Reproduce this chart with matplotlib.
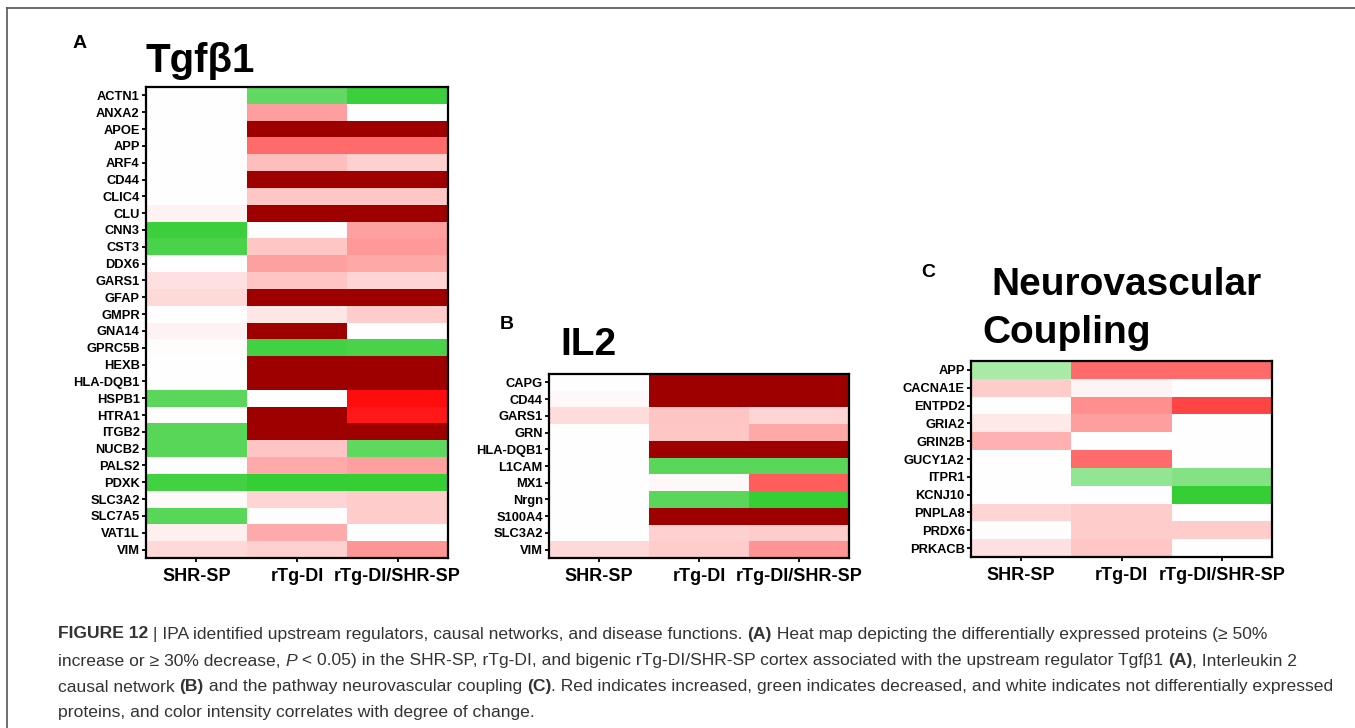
import matplotlib
matplotlib.use("Agg")
import matplotlib.pyplot as plt
import numpy as np
from matplotlib.colors import LinearSegmentedColormap, Normalize
from matplotlib.lines import Line2D

plt.rcParams["font.family"] = ["Liberation Sans", "DejaVu Sans"]

# Relative change scale: -1 (strongest decrease, green) .. +1 (strongest increase, red).
# Values above +1 are drawn in the dark "over" red.
groups = ["SHR-SP", "rTg-DI", "rTg-DI/SHR-SP"]
OVER = 1.5

tgfb1_genes = ["ACTN1", "ANXA2", "APOE", "APP", "ARF4", "CD44", "CLIC4", "CLU",
               "CNN3", "CST3", "DDX6", "GARS1", "GFAP", "GMPR", "GNA14", "GPRC5B",
               "HEXB", "HLA-DQB1", "HSPB1", "HTRA1", "ITGB2", "NUCB2", "PALS2",
               "PDXK", "SLC3A2", "SLC7A5", "VAT1L", "VIM"]
tgfb1_shr = [0, 0, 0, 0, 0, 0, 0, 0.05,
             -0.95, -0.88, 0, 0.12, 0.15, 0, 0.05, 0.01,
             0, 0, -0.80, 0, -0.82, -0.82, 0,
             -0.92, 0.02, -0.82, 0.06, 0.15]
tgfb1_rtg = [-0.77, 0.38, OVER, 0.58, 0.25, OVER, 0.22, OVER,
             0, 0.22, 0.37, 0.23, OVER, 0.10, OVER, -0.92,
             OVER, OVER, 0, OVER, OVER, 0.23, 0.33,
             -0.98, 0.17, 0, 0.33, 0.18]
tgfb1_bigenic = [-0.95, 0, OVER, 0.58, 0.18, OVER, 0.22, OVER,
                 0.37, 0.40, 0.34, 0.17, OVER, 0.20, 0, -0.88,
                 OVER, OVER, 0.95, 0.90, OVER, -0.78, 0.37,
                 -0.98, 0.20, 0.20, 0, 0.41]

il2_genes = ["CAPG", "CD44", "GARS1", "GRN", "HLA-DQB1", "L1CAM", "MX1", "Nrgn",
             "S100A4", "SLC3A2", "VIM"]
il2_shr = [0, 0.03, 0.14, 0, 0, 0, 0, 0, 0, 0, 0.15]
il2_rtg = [OVER, OVER, 0.23, 0.22, OVER, -0.80, 0.03, -0.80, OVER, 0.18, 0.20]
il2_bigenic = [OVER, OVER, 0.17, 0.34, OVER, -0.80, 0.64, -0.98, OVER, 0.20, 0.42]

nvc_genes = ["APP", "CACNA1E", "ENTPD2", "GRIA2", "GRIN2B", "GUCY1A2", "ITPR1",
             "KCNJ10", "PNPLA8", "PRDX6", "PRKACB"]
nvc_shr = [-0.42, 0.20, 0, 0.09, 0.31, 0, 0, 0, 0.17, 0, 0.12]
nvc_rtg = [0.58, 0.04, 0.44, 0.38, 0, 0.58, -0.53, 0, 0.20, 0.20, 0.22]
nvc_bigenic = [0.58, 0, 0.73, 0, 0, 0, -0.60, -0.98, 0, 0.20, 0]

W, H = 1355, 728
fig = plt.figure(figsize=(W / 100, H / 100), dpi=100)

cmap = LinearSegmentedColormap.from_list(
    "gwr", [(0.0, (50/255, 205/255, 50/255)), (0.5, (1, 1, 1)), (1.0, (1, 0, 0))])
cmap.set_over("#9e0000")
norm = Normalize(vmin=-1, vmax=1)


def fx(px):
    return px / W


def fy(py):
    return 1 - py / H


def draw_heatmap(left, top, right, bottom, genes, columns):
    ax = fig.add_axes([fx(left), fy(bottom), fx(right - left), (bottom - top) / H])
    data = np.array(columns, dtype=float).T
    ax.pcolormesh(np.arange(len(groups) + 1), np.arange(len(genes) + 1), data,
                  cmap=cmap, norm=norm, shading="flat", edgecolors="none")
    ax.set_xlim(0, len(groups))
    ax.set_ylim(len(genes), 0)
    ax.set_yticks(np.arange(len(genes)) + 0.5, genes, fontsize=9.3, fontweight="bold")
    ax.set_xticks(np.arange(len(groups)) + 0.5, groups, fontsize=13, fontweight="bold")
    ax.tick_params(axis="y", length=3, width=1.3, pad=1.5)
    ax.tick_params(axis="x", length=3, width=1.3, pad=4)
    for s in ax.spines.values():
        s.set_linewidth(1.6)
    return ax


draw_heatmap(146, 87, 448, 558, tgfb1_genes, [tgfb1_shr, tgfb1_rtg, tgfb1_bigenic])
draw_heatmap(549, 374, 849, 558, il2_genes, [il2_shr, il2_rtg, il2_bigenic])
draw_heatmap(971, 361, 1272, 557, nvc_genes, [nvc_shr, nvc_rtg, nvc_bigenic])

# Panel titles and letters
fig.text(fx(146), fy(72), "Tgfβ1", fontsize=29, fontweight="bold", va="baseline")
fig.text(fx(560), fy(355), "IL2", fontsize=28, fontweight="bold", va="baseline")
fig.text(fx(991), fy(295), "Neurovascular", fontsize=28, fontweight="bold", va="baseline")
fig.text(fx(982), fy(343), "Coupling", fontsize=28, fontweight="bold", va="baseline")
fig.text(fx(73), fy(48), "A", fontsize=14, fontweight="bold", va="baseline")
fig.text(fx(500), fy(329), "B", fontsize=14, fontweight="bold", va="baseline")
fig.text(fx(921), fy(277), "C", fontsize=14, fontweight="bold", va="baseline")

# Frame lines along the top and left edges
fig.add_artist(Line2D([fx(7), 1], [fy(8), fy(8)], color="#555555", lw=1.2))
fig.add_artist(Line2D([fx(7), fx(7)], [fy(8), 0], color="#555555", lw=1.2))

# Caption with mixed weights
cap_color = "#333333"
cap_size = 12.6
renderer = fig.canvas.get_renderer()


def rich_line(x_px, y_px, parts):
    x = fx(x_px)
    for text, style in parts:
        kw = {}
        if style == "b":
            kw["fontweight"] = "bold"
        elif style == "i":
            kw["fontstyle"] = "italic"
        t = fig.text(x, fy(y_px), text, fontsize=cap_size, color=cap_color,
                     va="center", ha="left", **kw)
        x += t.get_window_extent(renderer).width / W


rich_line(58, 634, [("FIGURE 12", "b"),
                    (" | IPA identified upstream regulators, causal networks, and disease functions. ", ""),
                    ("(A)", "b"),
                    (" Heat map depicting the differentially expressed proteins (≥ 50%", "")])
rich_line(58, 661, [("increase or ≥ 30% decrease, ", ""), ("P", "i"),
                    (" < 0.05) in the SHR-SP, rTg-DI, and bigenic rTg-DI/SHR-SP cortex associated with the upstream regulator Tgfβ1 ", ""),
                    ("(A)", "b"), (", Interleukin 2", "")])
rich_line(58, 687, [("causal network ", ""), ("(B)", "b"),
                    (" and the pathway neurovascular coupling ", ""), ("(C)", "b"),
                    (". Red indicates increased, green indicates decreased, and white indicates not differentially expressed", "")])
rich_line(58, 713, [("proteins, and color intensity correlates with degree of change.", "")])

fig.savefig("out.png", dpi=100)
